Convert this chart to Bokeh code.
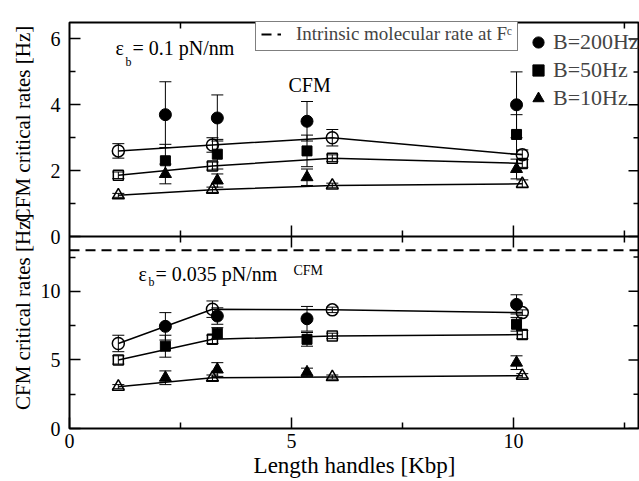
import math
from bokeh.plotting import figure
from bokeh.models import (Range1d, LinearAxis, FixedTicker, Whisker, TeeHead,
                          ColumnDataSource, Label, Legend, LegendItem, Span)
from bokeh.layouts import row
from bokeh.embed import file_html
from bokeh.resources import INLINE

# ---------------- data ----------------
x_open = [1.1, 3.22, 5.92, 10.2]        # open symbols (connected by lines)
x_filled = [2.16, 3.33, 5.35, 10.07]    # filled symbols

# top panel: eps_b = 0.1 pN/nm
top_open_200 = [2.6, 2.78, 3.0, 2.48]
top_open_200_err = [0.22, 0.22, 0.25, 0.15]
top_open_50 = [1.86, 2.14, 2.38, 2.22]
top_open_50_err = [0.1, 0.12, 0.1, 0.12]
top_open_10 = [1.25, 1.42, 1.55, 1.6]
top_open_10_err = [0.06, 0.08, 0.07, 0.12]
top_filled_200 = [3.7, 3.6, 3.5, 4.0]
top_filled_200_err = [1.0, 0.7, 0.6, 1.0]
top_filled_50 = [2.3, 2.5, 2.6, 3.1]
top_filled_50_err = [0.5, 0.45, 0.48, 0.6]
top_filled_10 = [1.9, 1.7, 1.8, 2.05]
top_filled_10_err = [0.3, 0.2, 0.25, 0.3]

# bottom panel: eps_b = 0.035 pN/nm
bot_open_200 = [6.2, 8.7, 8.65, 8.45]
bot_open_200_err = [0.6, 0.6, 0.2, 0.2]
bot_open_50 = [5.0, 6.5, 6.75, 6.85]
bot_open_50_err = [0.3, 0.3, 0.2, 0.3]
bot_open_10 = [3.05, 3.7, 3.75, 3.85]
bot_open_10_err = [0.15, 0.2, 0.15, 0.15]
bot_filled_200 = [7.45, 8.2, 8.0, 9.05]
bot_filled_200_err = [1.0, 0.6, 0.9, 0.7]
bot_filled_50 = [6.0, 6.95, 6.5, 7.6]
bot_filled_50_err = [0.8, 0.4, 0.5, 0.5]
bot_filled_10 = [3.7, 4.3, 4.1, 4.8]
bot_filled_10_err = [0.5, 0.5, 0.3, 0.5]

intrinsic_rate = 13.0
series_labels = ["B=200Hz", "B=50Hz", "B=10Hz"]

# ticks
x_major_ticks = [0, 5, 10]
x_minor_ticks = [2.5, 7.5, 12.5]
top_y_ticks = [0, 2, 4, 6]
top_y_minor = [1, 3, 5]
bot_y_ticks = [0, 5, 10]
bot_y_minor = [2.5, 7.5, 12.5]

# ---------------- layout (page pixels) ----------------
X_MIN, X_MAX = 0, 12.84
TOP_MAX = 6.5
BOT_MAX = 14.0
LABEL_W = 36
FIG_W, FIG_H = 639, 480
FL, FR = 69, 639
FT, FSPLIT, FB = 22, 236, 428
FONT = "Liberation Serif"

h_top = FSPLIT - FT
h_bot = FB - FSPLIT
bot_range_end = BOT_MAX * (FB - FT) / h_bot          # default range covers both panels
top_range_start = -TOP_MAX * h_bot / h_top           # top range maps 0 at the split
scale = (bot_range_end - BOT_MAX) / TOP_MAX


def to_bot(v):
    return BOT_MAX + v * scale


def dx(px):
    return X_MIN + (X_MAX - X_MIN) * (px - FL) / (FR - FL)


def dy(py):
    return BOT_MAX * (FB - py) / h_bot


p = figure(width=FIG_W - LABEL_W, height=FIG_H,
           x_range=Range1d(X_MIN, X_MAX), y_range=Range1d(0, bot_range_end),
           output_backend="svg", toolbar_location=None,
           x_axis_location=None, y_axis_location=None,
           min_border_left=FL - LABEL_W, min_border_right=0,
           min_border_top=FT, min_border_bottom=FIG_H - FB)
p.extra_y_ranges = {"top": Range1d(top_range_start, TOP_MAX)}
p.outline_line_color = "black"
p.outline_line_width = 2
p.grid.visible = False
p.background_fill_color = "white"
p.border_fill_color = "white"

y_major = bot_y_ticks + [to_bot(v) for v in top_y_ticks]
y_minor = bot_y_minor + [to_bot(v) for v in top_y_minor]
y_labels = {t: str(v) for t, v in zip(y_major, bot_y_ticks + top_y_ticks)}
yticker = FixedTicker(ticks=y_major, minor_ticks=y_minor)
xticker = FixedTicker(ticks=x_major_ticks, minor_ticks=x_minor_ticks)

MAJ, MIN_ = 11, 6


def make_axis(ticker):
    return LinearAxis(ticker=ticker, axis_line_color=None,
                      major_tick_in=MAJ, major_tick_out=0,
                      minor_tick_in=MIN_, minor_tick_out=0,
                      major_tick_line_color="black", minor_tick_line_color="black",
                      major_tick_line_width=1.5, minor_tick_line_width=1.5,
                      major_label_text_font=FONT, major_label_text_font_size="20px",
                      major_label_text_color="black")


yl = make_axis(yticker)
yl.major_label_overrides = y_labels
yl.major_label_standoff = 9
p.add_layout(yl, "left")
xb = make_axis(xticker)
xb.major_label_standoff = 5
xb.axis_label = "Length handles [Kbp]"
xb.axis_label_text_font = FONT
xb.axis_label_text_font_size = "23px"
xb.axis_label_text_font_style = "normal"
xb.axis_label_text_color = "black"
xb.axis_label_standoff = 2
p.add_layout(xb, "below")

# mirrored ticks: top edge, right edge and the separator between the panels
tick_style = dict(marker="dash", line_color="black", line_width=1.5)
x_inner_major = [t for t in x_major_ticks if t > X_MIN]
for yv in (BOT_MAX, bot_range_end):
    p.scatter(x_inner_major, [yv] * len(x_inner_major), angle=math.pi / 2, size=2 * MAJ, **tick_style)
    p.scatter(x_minor_ticks, [yv] * len(x_minor_ticks), angle=math.pi / 2, size=2 * MIN_, **tick_style)
p.scatter([X_MAX] * len(y_major), y_major, size=2 * MAJ, **tick_style)
p.scatter([X_MAX] * len(y_minor), y_minor, size=2 * MIN_, **tick_style)
p.add_layout(Span(location=BOT_MAX, dimension="width", line_color="black", line_width=2))


def add_errors(xs, ys, errs, rname):
    src = ColumnDataSource(dict(x=xs,
                                upper=[y + e for y, e in zip(ys, errs)],
                                lower=[y - e for y, e in zip(ys, errs)]))
    p.add_layout(Whisker(source=src, base="x", upper="upper", lower="lower",
                         y_range_name=rname,
                         line_color="black", line_width=1,
                         upper_head=TeeHead(size=12, line_color="black", line_width=1),
                         lower_head=TeeHead(size=12, line_color="black", line_width=1)))


def panel(opens, filled, rname):
    markers = ["circle", "square", "triangle"]
    sizes = [12, 10, 12]
    rends = []
    for (vals, errs), m, s in zip(opens, markers, sizes):
        p.line(x_open, vals, line_color="black", line_width=1.5, y_range_name=rname)
        add_errors(x_open, vals, errs, rname)
        p.scatter(x_open, vals, marker=m, size=s, fill_color=None,
                  line_color="black", line_width=1.5, y_range_name=rname)
    for (vals, errs), m, s in zip(filled, markers, sizes):
        add_errors(x_filled, vals, errs, rname)
        r = p.scatter(x_filled, vals, marker=m, size=s, fill_color="black",
                      line_color="black", line_width=1, y_range_name=rname)
        rends.append(r)
    return rends


r_intr = p.line([X_MIN, X_MAX], [intrinsic_rate, intrinsic_rate],
                line_color="black", line_width=2, line_dash="10 6")

rends_top = panel([(top_open_200, top_open_200_err), (top_open_50, top_open_50_err),
                   (top_open_10, top_open_10_err)],
                  [(top_filled_200, top_filled_200_err), (top_filled_50, top_filled_50_err),
                   (top_filled_10, top_filled_10_err)], "top")
panel([(bot_open_200, bot_open_200_err), (bot_open_50, bot_open_50_err),
       (bot_open_10, bot_open_10_err)],
      [(bot_filled_200, bot_filled_200_err), (bot_filled_50, bot_filled_50_err),
       (bot_filled_10, bot_filled_10_err)], "default")

leg_intr = Legend(items=[LegendItem(label="Intrinsic molecular rate at F\u1d9c", renderers=[r_intr])],
                  location=(255 - FL, FB - 51), padding=5, margin=0, spacing=0,
                  glyph_width=20, glyph_height=18, label_height=18, label_standoff=15,
                  label_text_font=FONT, label_text_font_size="19px",
                  border_line_color="black", border_line_width=1,
                  background_fill_color="white", background_fill_alpha=1)
p.add_layout(leg_intr)

leg_b = Legend(items=[LegendItem(label=l, renderers=[r]) for l, r in zip(series_labels, rends_top)],
               location=(538 - 15 - FL, FB - 112), padding=0, margin=0, spacing=0,
               glyph_width=30, glyph_height=28, label_height=28, label_standoff=-5,
               label_text_font=FONT, label_text_font_size="22px",
               border_line_color=None, background_fill_alpha=0)
p.add_layout(leg_b)

txt = dict(text_font=FONT, text_color="black", text_baseline="alphabetic")
p.add_layout(Label(x=dx(115), y=dy(47), text="\u03b5", text_font_size="20px", **txt))
p.add_layout(Label(x=dx(125), y=dy(61), text="b", text_font_size="12px", **txt))
p.add_layout(Label(x=dx(132), y=dy(47), text="= 0.1 pN/nm", text_font_size="20px", **txt))
p.add_layout(Label(x=dx(288), y=dy(84), text="CFM", text_font_size="20px", **txt))
p.add_layout(Label(x=dx(138), y=dy(273), text="\u03b5", text_font_size="20px", **txt))
p.add_layout(Label(x=dx(148), y=dy(281), text="b", text_font_size="12px", **txt))
p.add_layout(Label(x=dx(155), y=dy(273), text="= 0.035 pN/nm", text_font_size="20px", **txt))
p.add_layout(Label(x=dx(293), y=dy(270), text="CFM", text_font_size="14px", **txt))

# strip on the left carrying the two rotated y-axis titles
pl = figure(width=LABEL_W, height=FIG_H, x_range=Range1d(0, LABEL_W), y_range=Range1d(0, FIG_H),
            output_backend="svg", toolbar_location=None,
            x_axis_location=None, y_axis_location=None, min_border=0)
pl.outline_line_color = None
pl.grid.visible = False
pl.border_fill_color = "white"
pl.background_fill_color = "white"
ylab = dict(text_font=FONT, text_font_size="21px", text_color="black", angle=math.pi / 2,
            text_align="center", text_baseline="middle")
pl.add_layout(Label(x=22, y=FIG_H - 120, text="CFM critical rates [Hz]", **ylab))
pl.add_layout(Label(x=22, y=FIG_H - 342, text="CFM critical rates [Hz]", **ylab))

layout = row(pl, p, spacing=0)
open("out.html", "w").write(file_html(layout, INLINE))
